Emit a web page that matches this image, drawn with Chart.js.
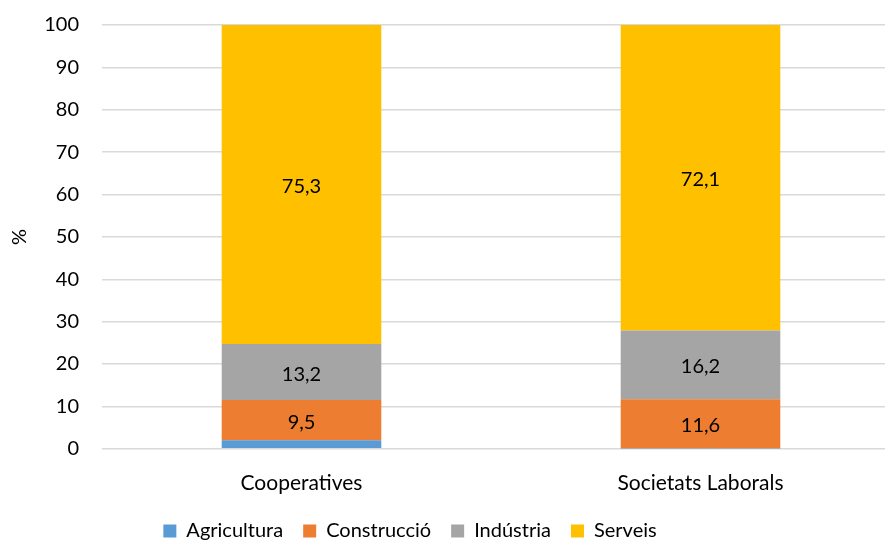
<!DOCTYPE html>
<html>
<head>
<meta charset="utf-8">
<script src="https://cdn.jsdelivr.net/npm/chart.js@4/dist/chart.umd.min.js"></script>
<style>
    html, body { margin: 0; padding: 0; overflow: hidden; background: #fff; }
    #wrap { width: 900px; height: 542px; }
</style>
</head>
<body>
<div id="wrap"><canvas id="chart" width="900" height="542"></canvas></div>
<script>
const categories = ['Cooperatives', 'Societats Laborals'];
const agricultura = [2.0, 0.1];
const construccio = [9.5, 11.6];
const industria = [13.2, 16.2];
const serveis = [75.3, 72.1];
const yTicks = [0, 10, 20, 30, 40, 50, 60, 70, 80, 90, 100];

const FONT = 'Lato, "Open Sans", sans-serif';
const SIZE = 20;

// etiquetes de valor dins de les barres
const valueLabels = {
    id: 'valueLabels',
    afterDatasetsDraw(chart) {
        const ctx = chart.ctx;
        ctx.save();
        ctx.font = SIZE + 'px ' + FONT;
        ctx.fillStyle = '#000';
        ctx.textAlign = 'center';
        ctx.textBaseline = 'middle';
        chart.data.datasets.forEach((ds, i) => {
            const meta = chart.getDatasetMeta(i);
            meta.data.forEach((bar, j) => {
                const v = ds.data[j];
                if (v < 5) return;
                ctx.fillText(v.toFixed(1).replace('.', ','), bar.x, (bar.y + bar.base) / 2 + 2);
            });
        });
        ctx.restore();
    }
};

// la llegenda original no està centrada al llenç, la desplacem una mica a l'esquerra
const legendShift = {
    id: 'legendShift',
    afterLayout(chart) {
        if (!chart.legend) return;
        chart.legend.left -= 40;
        chart.legend.right -= 40;
    }
};

const makeSet = (label, data, color) => ({
    label: label,
    data: data,
    backgroundColor: color,
    borderWidth: 0,
    barPercentage: 0.8,
    categoryPercentage: 0.5
});

new Chart(document.getElementById('chart'), {
    type: 'bar',
    data: {
        labels: categories,
        datasets: [
            makeSet('Agricultura', agricultura, '#5b9bd5'),
            makeSet('Construcció', construccio, '#ed7d31'),
            makeSet('Indústria', industria, '#a5a5a5'),
            makeSet('Serveis', serveis, '#ffc000')
        ]
    },
    options: {
        responsive: false,
        animation: false,
        layout: { padding: { top: 25, left: 0, right: 0, bottom: -9 } },
        scales: {
            x: {
                stacked: true,
                grid: { display: false },
                border: { display: false },
                ticks: { color: '#000', font: { family: FONT, size: 21 }, padding: 14 },
                afterFit(axis) { axis.height -= 9; }
            },
            y: {
                stacked: true,
                min: 0,
                max: 100,
                afterBuildTicks(axis) { axis.ticks = yTicks.map(v => ({ value: v })); },
                afterFit(axis) {
                    axis.paddingTop = 0;
                    axis.paddingBottom = 0;
                    axis.width = 102;
                },
                grid: { color: '#d9d9d9', lineWidth: 1.5, drawTicks: false },
                border: { display: false },
                ticks: { color: '#000', font: { family: FONT, size: SIZE }, padding: 23 },
                title: { display: true, text: '%', color: '#000', font: { family: FONT, size: SIZE }, padding: { top: 8, bottom: 0 } }
            }
        },
        plugins: {
            legend: {
                position: 'bottom',
                labels: {
                    color: '#000',
                    boxWidth: 13,
                    boxHeight: 13,
                    padding: 20,
                    font: { family: FONT, size: SIZE }
                }
            },
            tooltip: { enabled: false }
        }
    },
    plugins: [valueLabels, legendShift]
});
</script>
</body>
</html>
